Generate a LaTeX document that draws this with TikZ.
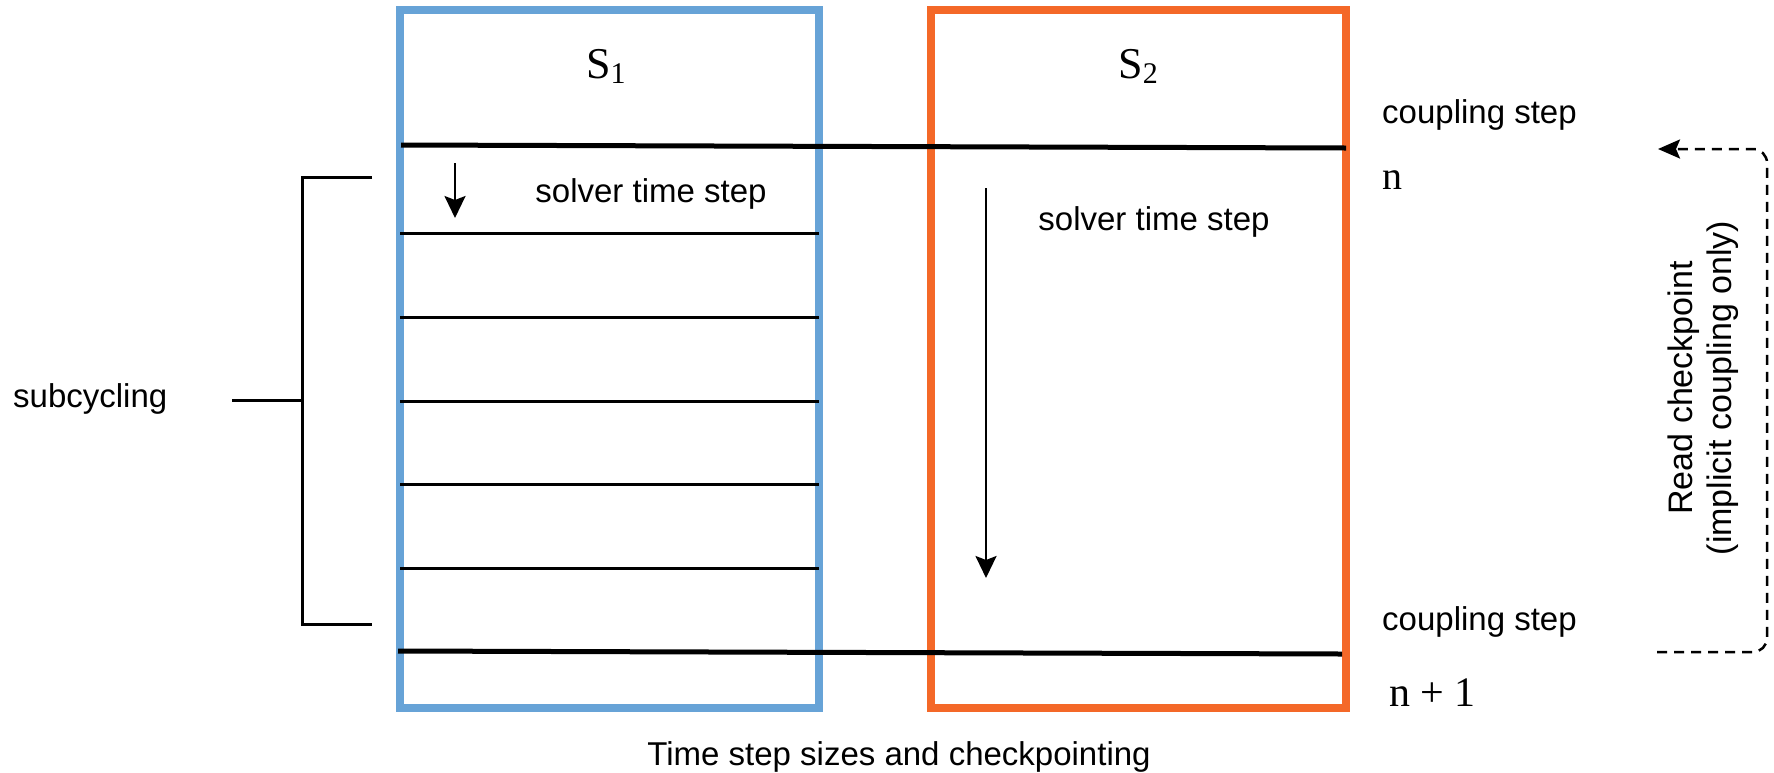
\documentclass[tikz,border=0pt]{standalone}
\usepackage{fontspec}
\setmainfont{Liberation Sans}
\newfontfamily\serifT{Liberation Serif}
\usetikzlibrary{arrows.meta}
\definecolor{blueS}{RGB}{103,163,215}
\definecolor{orangeS}{RGB}{244,104,40}
\tikzset{
  sysbox/.style={draw, line width=8pt, rectangle, inner sep=0pt, outer sep=0pt},
  couple/.style={line width=5pt, black},
  substep/.style={line width=3pt, black},
  brace/.style={line width=3pt, black},
  arr/.style={line width=2.5pt, -{Stealth[length=22pt,width=21pt,inset=4pt]}},
  darr/.style={line width=2.5pt, dash pattern=on 10pt off 7pt, rounded corners=14pt,
               -{Stealth[length=22pt,width=19pt,inset=4pt]}},
  lbl/.style={font=\fontsize{33}{38}\selectfont, inner sep=0pt},
  rlbl/.style={font=\fontsize{34}{39}\selectfont, inner sep=0pt},
  ser/.style={font=\serifT\fontsize{44}{48}\selectfont, inner sep=0pt},
  serbig/.style={font=\serifT\fontsize{42}{46}\selectfont, inner sep=0pt},
}
\newcommand{\subidx}[1]{\raisebox{-5pt}{\fontsize{30}{30}\selectfont #1}}
\begin{document}
\begin{tikzpicture}[x=1pt,y=-1pt]
\useasboundingbox (0,0) rectangle (1774,772);

% solver boxes
\node[sysbox, draw=blueS, minimum width=419pt, minimum height=698.5pt] (s1box) at (609.5,358.75) {};
\node[sysbox, draw=orangeS, minimum width=415.5pt, minimum height=698.5pt] (s2box) at (1138.25,358.75) {};

% labels S1, S2
\node[ser, anchor=base] (s1) at (606,78) {S\subidx{1}};
\node[ser, anchor=base] (s2) at (1138,78) {S\subidx{2}};

% coupling step lines
\coordinate (ctl) at (401,145);
\coordinate (ctr) at (1346,148);
\coordinate (cbl) at (398,651);
\coordinate (cbr) at (1342,654);
\draw[couple] (ctl) -- (ctr);
\draw[couple] (cbl) -- (cbr);

% subcycling lines in S1
\foreach \yy [count=\i] in {233,317,401,484,568} {
  \coordinate (sl\i) at (400,\yy);
  \coordinate (sr\i) at (819,\yy);
  \draw[substep] (sl\i) -- (sr\i);
}

% solver time step arrows
\coordinate (a1s) at (455,163);
\coordinate (a1e) at (455,218);
\draw[arr] (a1s) -- (a1e);
\coordinate (a2s) at (986,188);
\coordinate (a2e) at (986,578);
\draw[arr] (a2s) -- (a2e);

\node[lbl, anchor=base] (st1) at (651,202) {solver time step};
\node[lbl, anchor=base] (st2) at (1154,230) {solver time step};

% right labels
\node[lbl, anchor=base west] (cs1) at (1382,123) {coupling step};
\node[lbl, anchor=base west] (cs2) at (1382,630) {coupling step};
\node[ser, font=\serifT\fontsize{40}{44}\selectfont, anchor=base west] (n) at (1382,189) {n};
\node[serbig, anchor=base west] (n1) at (1389,706) {n + 1};

% read checkpoint dashed arrow
\coordinate (ds) at (1657,652);
\coordinate (dc1) at (1767,652);
\coordinate (dc2) at (1767,149);
\coordinate (de) at (1658,149);
\draw[darr] (ds) -- (dc1) -- (dc2) -- (de);
\node[rlbl, rotate=90, align=center] (rc) at (1703,388) {Read checkpoint\\(implicit coupling only)};

% subcycling bracket
\coordinate (bt) at (372,177);
\coordinate (btc) at (302,177);
\coordinate (bbc) at (302,624);
\coordinate (bb) at (372,624);
\coordinate (bm) at (302,400);
\coordinate (bl) at (232,400);
\draw[brace] (bt) -- (btc) -- (bbc) -- (bb);
\draw[brace] (bl) -- (bm);
\node[lbl, anchor=base west] (subc) at (13,407) {subcycling};

% title
\node[lbl, anchor=base] (title) at (899,765) {Time step sizes and checkpointing};
\end{tikzpicture}
\end{document}
